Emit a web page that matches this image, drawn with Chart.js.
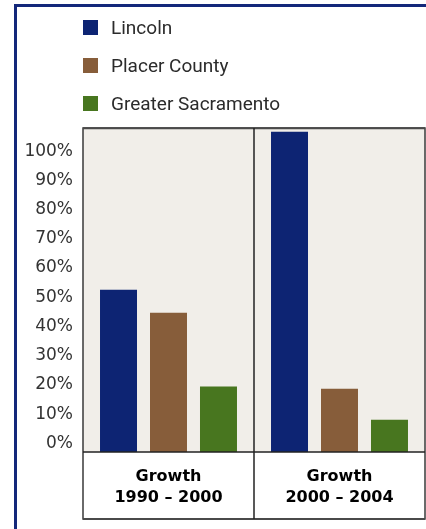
<!DOCTYPE html>
<html>
<head>
<meta charset="utf-8">
<script src="https://cdn.jsdelivr.net/npm/chart.js@4/dist/chart.umd.min.js"></script>
<style>
  html, body { margin: 0; padding: 0; background: #ffffff; }
  #wrap { position: relative; width: 426px; height: 529px; overflow: hidden; background: #fff; }
  #frame { position: absolute; left: 14px; top: 4px; width: 420px; height: 540px;
           border-left: 3px solid #13287a; border-top: 3px solid #13287a; box-sizing: border-box; }
  canvas { position: absolute; left: 0; top: 0; }
  #legend { position: absolute; left: 83px; top: 20px; margin: 0; padding: 0; list-style: none; }
  #legend li { display: flex; align-items: center; height: 15px; margin-bottom: 23px;
               font-family: Roboto, sans-serif; font-weight: 400; font-size: 19px; color: #2b2b2b; white-space: nowrap; }
  #legend li span.box { display: inline-block; width: 15px; height: 15px; margin-right: 13px; }
</style>
</head>
<body>
<div id="wrap">
  <canvas id="c" width="426" height="529"></canvas>
  <div id="frame"></div>
  <ul id="legend"></ul>
</div>
<script>
// ---- data ----
const categories = [["Growth", "1990 – 2000"], ["Growth", "2000 – 2004"]];
const seriesNames = ["Lincoln", "Placer County", "Greater Sacramento"];
const lincoln = [52.6, 106.6];
const placerCounty = [44.7, 18.7];
const greaterSacramento = [19.5, 8.1];
const yTickValues = [0, 10, 20, 30, 40, 50, 60, 70, 80, 90, 100];
const seriesColors = ["#0d2473", "#875d3a", "#48761f"];

const Y_MIN = -2.94, Y_MAX = 107.9;

const panelPlugin = {
  id: 'panel',
  beforeDraw(chart) {
    const {ctx, chartArea: a, scales} = chart;
    ctx.save();
    ctx.fillStyle = '#f1eee9';
    ctx.fillRect(a.left, a.top, a.right - a.left, a.bottom - a.top);
    ctx.fillStyle = '#ffffff';
    ctx.fillRect(a.left, a.bottom, a.right - a.left, scales.x.bottom - a.bottom);
    ctx.restore();
  },
  afterDraw(chart) {
    const {ctx, chartArea: a, scales} = chart;
    const xs = scales.x;
    const bottom = xs.bottom;
    const mid = (xs.getPixelForValue(0) + xs.getPixelForValue(1)) / 2;
    ctx.save();
    ctx.strokeStyle = '#3a3a3a';
    ctx.lineWidth = 1.5;
    ctx.strokeRect(a.left, a.top, a.right - a.left, bottom - a.top);
    ctx.lineWidth = 2;
    ctx.strokeStyle = '#4a4a4a';
    ctx.beginPath(); ctx.moveTo(a.left, a.top + 0.2); ctx.lineTo(a.right, a.top + 0.2); ctx.stroke();
    ctx.beginPath(); ctx.moveTo(a.left, bottom); ctx.lineTo(a.right, bottom); ctx.stroke();
    ctx.strokeStyle = '#222';
    ctx.lineWidth = 1.5;
    ctx.beginPath(); ctx.moveTo(a.left, a.bottom); ctx.lineTo(a.right, a.bottom); ctx.stroke();
    ctx.beginPath(); ctx.moveTo(mid, a.top); ctx.lineTo(mid, bottom); ctx.stroke();
    ctx.restore();
  }
};

const datasets = [lincoln, placerCounty, greaterSacramento].map((vals, i) => ({
  label: seriesNames[i],
  data: vals,
  backgroundColor: seriesColors[i],
  borderWidth: 0,
  base: Y_MIN,
  categoryPercentage: 0.877,
  barPercentage: 0.74
}));

const chart = new Chart(document.getElementById('c'), {
  type: 'bar',
  data: { labels: categories, datasets },
  options: {
    responsive: false,
    animation: false,
    layout: { padding: { top: 128, left: 0, right: 1, bottom: 10 } },
    plugins: { legend: { display: false }, tooltip: { enabled: false } },
    scales: {
      x: {
        grid: { display: false, drawTicks: false },
        border: { display: false },
        ticks: {
          padding: 14,
          color: '#000',
          font: { family: 'DejaVu Sans', weight: 'bold', size: 16, lineHeight: '21px' },
          maxRotation: 0
        },
        afterFit(s) { s.height = 67; }
      },
      y: {
        min: Y_MIN,
        max: Y_MAX,
        grid: { display: false, drawTicks: false },
        border: { display: false },
        afterBuildTicks(s) { s.ticks = yTickValues.map(v => ({ value: v })); },
        afterFit(s) { s.width = 83; },
        ticks: {
          padding: 10,
          color: '#333',
          font: { family: 'DejaVu Sans', size: 17 },
          callback: v => v + '%'
        }
      }
    }
  },
  plugins: [panelPlugin]
});

// HTML legend built from the chart's datasets
const ul = document.getElementById('legend');
chart.data.datasets.forEach(ds => {
  const li = document.createElement('li');
  const box = document.createElement('span');
  box.className = 'box';
  box.style.background = ds.backgroundColor;
  li.appendChild(box);
  li.appendChild(document.createTextNode(ds.label));
  ul.appendChild(li);
});
</script>
</body>
</html>
